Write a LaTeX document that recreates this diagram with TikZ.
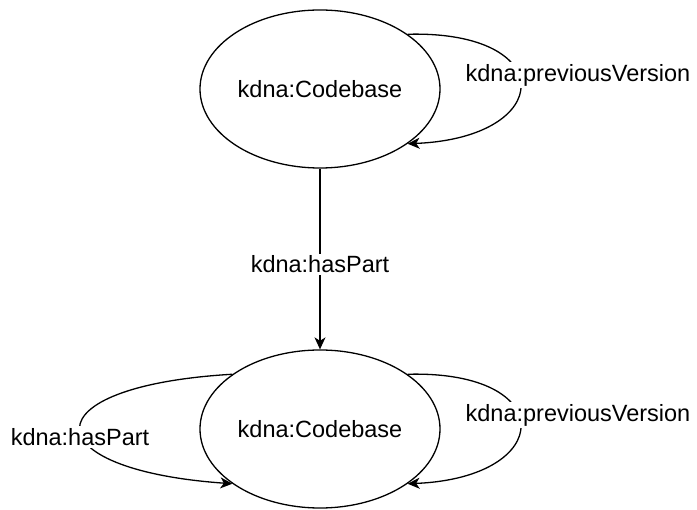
\documentclass[tikz,border=0pt]{standalone}
\usepackage{fontspec}
\setmainfont{Liberation Sans}
\usetikzlibrary{shapes.geometric,arrows.meta}
\begin{document}
\begin{tikzpicture}[x=1pt,y=-1pt,
  every node/.style={font=\fontsize{23.5}{28}\selectfont},
  classnode/.style={draw, ellipse, line width=1.3pt, minimum width=240pt, minimum height=158pt, inner sep=0pt},
  rel/.style={draw, line width=1.3pt, -{Stealth[length=12pt,width=11pt,inset=3.5pt]}},
  rellabel/.style={fill=white, inner sep=2pt}
]
\useasboundingbox (0,0) rectangle (697,510);
\node[classnode] (top) at (320,89) {kdna:Codebase};
\node[classnode] (bot) at (320,429) {kdna:Codebase};

\draw[rel] (top.south) -- node[rellabel, pos=0.53] (lmid) {kdna:hasPart} (bot.north);

\draw[rel] (top.32) .. controls +(152,-4) and +(148,-6) .. (top.-32);
\node[rellabel] (ltop) at (578,75) {kdna:previousVersion};

\draw[rel] (bot.32) .. controls +(152,-4) and +(148,-6) .. (bot.-32);
\node[rellabel] (lbr) at (578,415) {kdna:previousVersion};

\draw[rel] (bot.148) .. controls +(-205,12) and +(-200,-14) .. (bot.-148);
\node[rellabel] (lbl) at (80,437) {kdna:hasPart};
\end{tikzpicture}
\end{document}
